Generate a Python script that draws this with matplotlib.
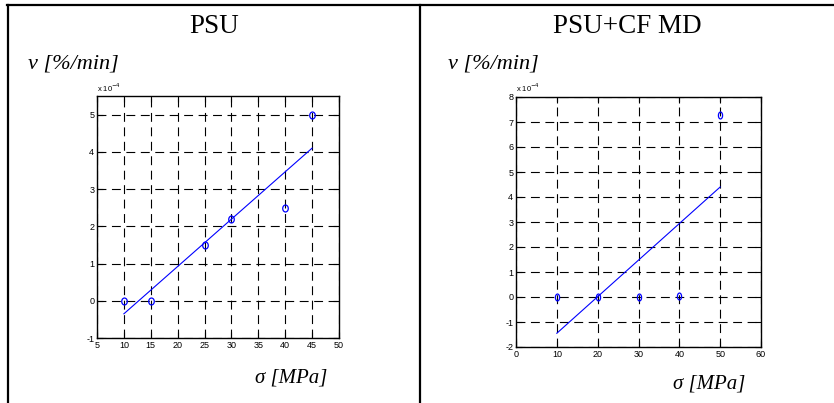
import numpy as np
import matplotlib
matplotlib.use("Agg")
import matplotlib.pyplot as plt
from matplotlib.lines import Line2D
from matplotlib.path import Path
from matplotlib.transforms import Affine2D

plt.rcParams["axes.unicode_minus"] = False

# creep rate data, values in units of 1e-4 %/min
stress_psu = [10, 15, 25, 30, 40, 45]
rate_psu = [0.0, 0.0, 1.5, 2.2, 2.5, 5.0]
fit_x_psu = [10, 45]
fit_y_psu = [-0.35, 4.1]

stress_cf = [10, 20, 30, 40, 50]
rate_cf = [0.0, 0.0, 0.0, 0.05, 7.3]
fit_x_cf = [10, 50]
fit_y_cf = [-1.45, 4.4]

titles = ["PSU", "PSU+CF MD"]

W, H = 834, 403
fig = plt.figure(figsize=(W / 100, H / 100), dpi=100)


def fx(px):
    return px / W


def fy(py):
    return 1 - py / H


def ellipse(sx):
    return Path.unit_circle().transformed(Affine2D().scale(sx, 1.0))


def matlab_axes(rect, xlim, xticks, ylim, yticks, xs, ys, fx_, fy_, sx):
    ax = fig.add_axes(rect)
    ax.plot(fx_, fy_, color="blue", lw=0.8)
    ax.plot(xs, ys, linestyle="none", marker=ellipse(sx), ms=5,
            mfc="none", mec="blue", mew=0.9)
    ax.set_xlim(*xlim)
    ax.set_ylim(*ylim)
    ax.set_xticks(xticks)
    ax.set_yticks(yticks)
    ax.grid(True, color="black", linestyle=(0, (8, 5)), linewidth=0.8)
    ax.tick_params(direction="in", top=True, right=True, length=4,
                   width=0.8, labelsize=6.5, pad=2)
    for lab in ax.get_xticklabels() + ax.get_yticklabels():
        lab.set_family("Liberation Sans")
    for sp in ax.spines.values():
        sp.set_linewidth(1.0)
    ax.text(0, 1.01, r"x 10$^{-4}$", transform=ax.transAxes, fontsize=5.5,
            family="Liberation Sans", ha="left", va="bottom")
    return ax


# left panel
matlab_axes([fx(97), fy(338), fx(242), 242 / H], (5, 50), np.arange(5, 51, 5),
            (-1, 5.5), np.arange(-1, 6, 1), stress_psu, rate_psu,
            fit_x_psu, fit_y_psu, 0.8)

# right panel
matlab_axes([fx(516), fy(347), fx(245), 250 / H], (0, 60), np.arange(0, 61, 10),
            (-2, 8), np.arange(-2, 9, 1), stress_cf, rate_cf,
            fit_x_cf, fit_y_cf, 0.6)

# table-like frame
fig.add_artist(Line2D([fx(7), 1], [fy(5), fy(5)], color="black", lw=1.6))
fig.add_artist(Line2D([fx(8), fx(8)], [fy(5), 0], color="black", lw=1.6))
fig.add_artist(Line2D([fx(420), fx(420)], [fy(5), 0], color="black", lw=1.6))

serif = "Liberation Serif"
fig.text(fx(214), fy(33), titles[0], fontsize=19.5, family=serif,
         ha="center", va="baseline")
fig.text(fx(627), fy(33), titles[1], fontsize=19.5, family=serif,
         ha="center", va="baseline")

for x0 in (28, 448):
    fig.text(fx(x0), fy(69), "v [%/min]", fontsize=16, family=serif,
             style="italic", ha="left", va="baseline")

fig.text(fx(255), fy(383), "σ [MPa]", fontsize=15, family=serif,
         style="italic", ha="left", va="baseline")
fig.text(fx(673), fy(389), "σ [MPa]", fontsize=15, family=serif,
         style="italic", ha="left", va="baseline")

fig.savefig("out.png", dpi=100)
